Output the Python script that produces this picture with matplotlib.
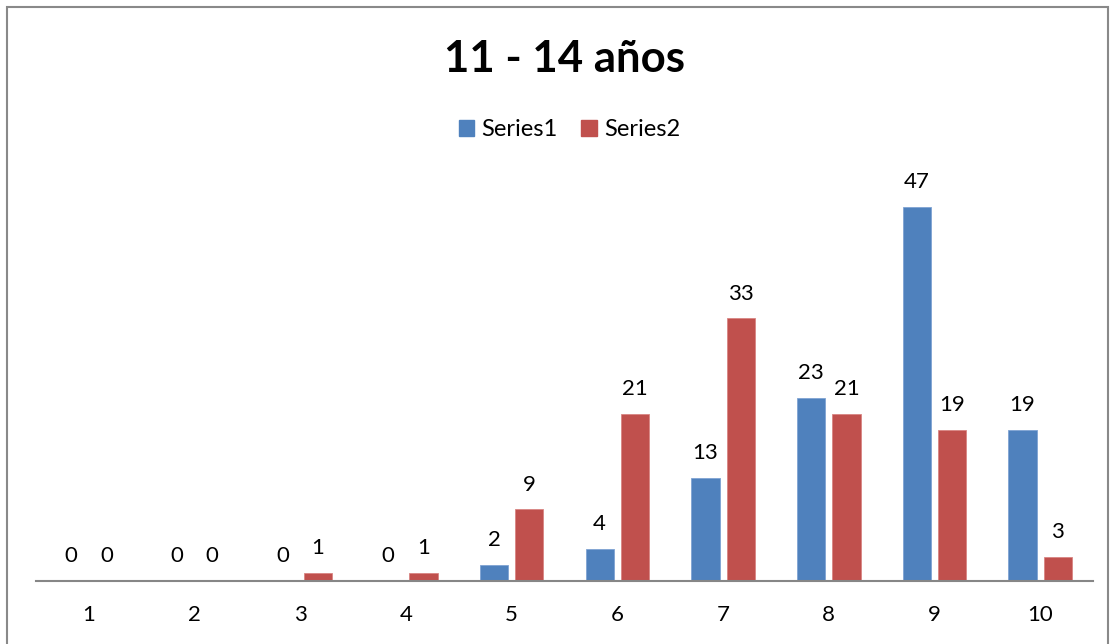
import matplotlib
matplotlib.use("agg")
import matplotlib.pyplot as plt
from matplotlib.patches import Rectangle, Patch
import numpy as np

plt.rcParams['font.family'] = ['Lato', 'DejaVu Sans']

categories = ['1', '2', '3', '4', '5', '6', '7', '8', '9', '10']
series1 = [0, 0, 0, 0, 2, 4, 13, 23, 47, 19]
series2 = [0, 0, 1, 1, 9, 21, 33, 21, 19, 3]
series_names = ['Series1', 'Series2']
title = '11 - 14 años'

blue = '#4F81BD'
red = '#C0504D'

fig = plt.figure(figsize=(11.15, 6.44), dpi=100)
ax = fig.add_axes([36 / 1115, 63 / 644, 1057 / 1115, 398 / 644])

x = np.arange(1, len(categories) + 1)
width = 0.268
off = 0.167
b1 = ax.bar(x - off, series1, width, color=blue, edgecolor='#7FA3D3', linewidth=0.6)
b2 = ax.bar(x + off, series2, width, color=red, edgecolor='#D98583', linewidth=0.6)

for bars, vals in ((b1, series1), (b2, series2)):
    for rect, v in zip(bars, vals):
        ax.annotate(str(v), (rect.get_x() + rect.get_width() / 2, v),
                    xytext=(0, 13.5), textcoords='offset points',
                    ha='center', va='baseline', fontsize=16, color='black')

ax.set_xlim(0.5, 10.5)
ax.set_ylim(0, 50)
ax.set_xticks(x)
ax.set_xticklabels(categories, fontsize=16)
ax.tick_params(axis='x', length=0, pad=17)
ax.set_yticks([])
for s in ['top', 'left', 'right']:
    ax.spines[s].set_visible(False)
ax.spines['bottom'].set_color('#868686')
ax.spines['bottom'].set_linewidth(1.5)

fig.text(564.5 / 1115, 1 - 59 / 644, title, ha='center', va='center', fontsize=31.5, fontweight='bold')

handles = [Patch(color=blue), Patch(color=red)]
fig.legend(handles, series_names, loc='center', bbox_to_anchor=(569.5 / 1115, 1 - 130 / 644),
           ncol=2, frameon=False, fontsize=17, handlelength=0.65, handleheight=0.65,
           handletextpad=0.3, columnspacing=1.0)

fig.patches.append(Rectangle((7 / 1115, -0.05), 1101 / 1115, 1 - 7 / 644 + 0.05,
                             transform=fig.transFigure, fill=False,
                             edgecolor='#898989', linewidth=1.5))

fig.savefig('out.png', dpi=100)
